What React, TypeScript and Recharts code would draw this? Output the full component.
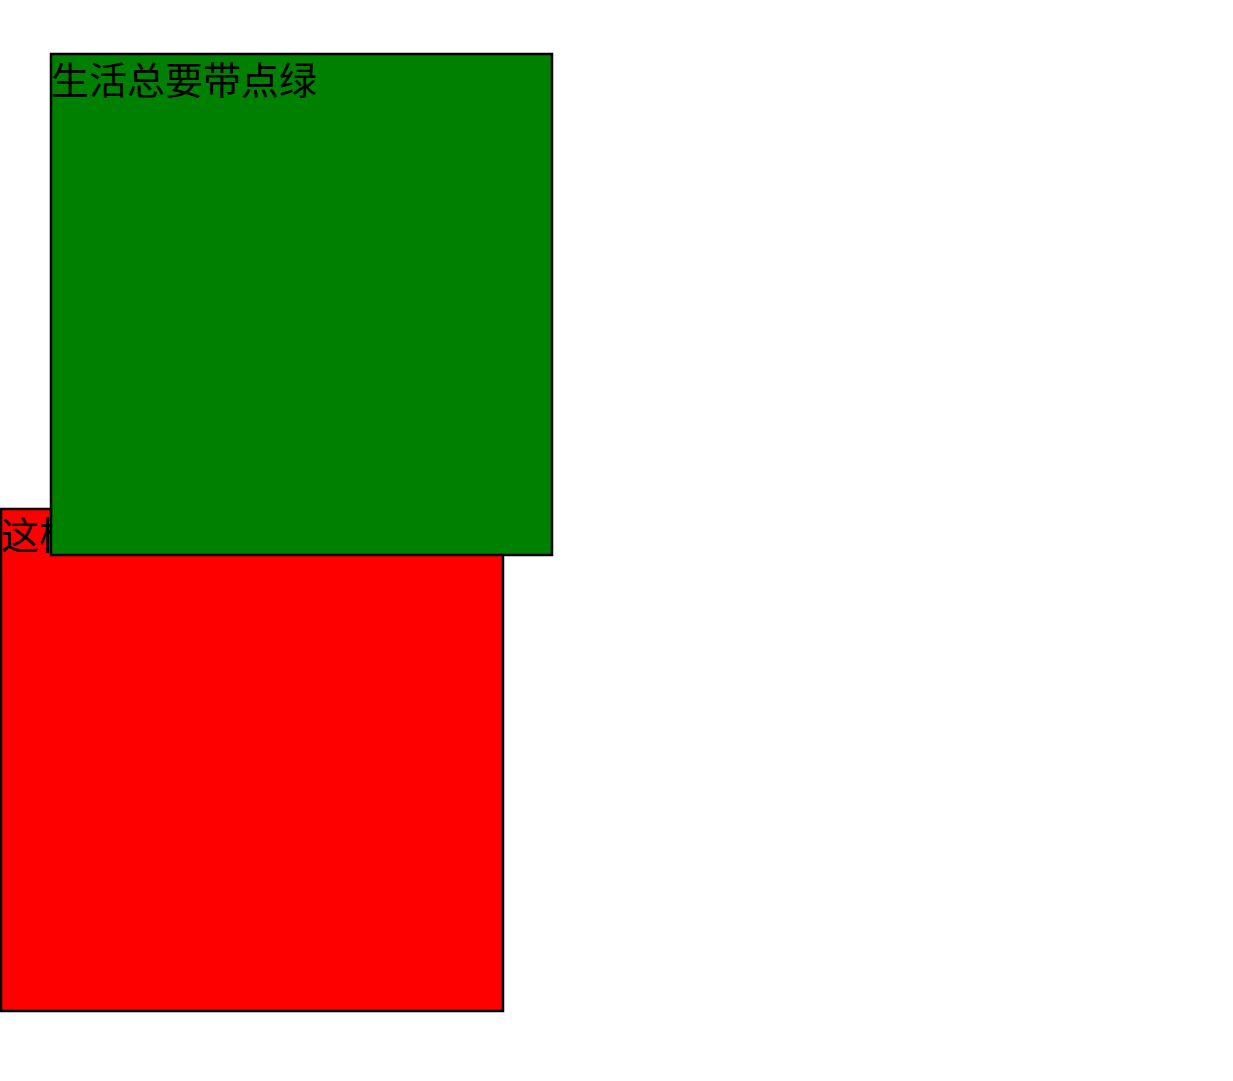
import React from 'react';
import { ComposedChart, XAxis, YAxis, ReferenceArea } from 'recharts';

const rectNames = ['red', 'green'];
const rectX = [1, 51];
const rectY = [509, 54];
const rectSize = [502, 501];
const rectFill = ['#ff0000', '#008000'];
const rectLabels = ['这样才会有乐趣', '生活总要带点绿'];

const W = 1233;
const H = 1081;

export default function App() {
  return (
    <div style={{ position: 'absolute', left: 0, top: 0 }}>
      <ComposedChart width={W} height={H} data={[{ x: 0, y: 0 }]} margin={{ top: 0, right: 0, bottom: 0, left: 0 }}>
        <XAxis type="number" dataKey="x" domain={[0, W]} hide allowDataOverflow />
        <YAxis type="number" dataKey="y" domain={[0, H]} hide reversed allowDataOverflow />
        {rectNames.map((n, i) => (
          <ReferenceArea
            key={n}
            x1={rectX[i]}
            x2={rectX[i] + rectSize[i]}
            y1={rectY[i]}
            y2={rectY[i] + rectSize[i]}
            fill={rectFill[i]}
            fillOpacity={1}
            stroke="#000"
            strokeWidth={2.5}
            ifOverflow="visible"
            label={(props: any) => {
              const vb = props.viewBox || {};
              return (
                <text
                  x={vb.x}
                  y={vb.y + 40}
                  fontSize={38}
                  fill="#000"
                  fontFamily="'Noto Sans CJK SC', sans-serif"
                >
                  {rectLabels[i]}
                </text>
              );
            }}
          />
        ))}
      </ComposedChart>
    </div>
  );
}
